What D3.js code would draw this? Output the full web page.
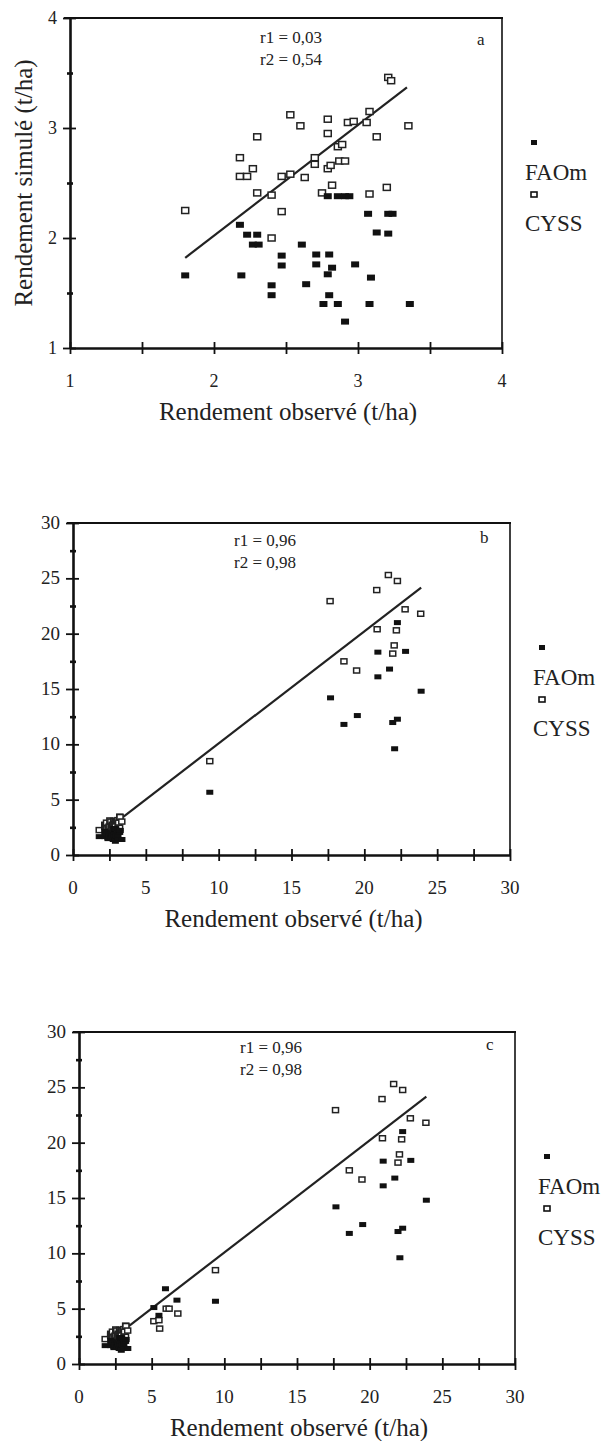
<!DOCTYPE html>
<html>
<head>
<meta charset="utf-8">
<script src="https://cdn.jsdelivr.net/npm/d3@7"></script>
<style>
  body { margin: 0; background: #fff; }
  svg { display: block; font-family: "Liberation Serif", "DejaVu Serif", serif; }
</style>
</head>
<body>
<svg></svg>
<script>
// observed / simulated yields (t/ha), read off the figure
// low-yield group (panel a, and the blob near the origin of b and c)
const faomLow = [
	[1.80, 1.66], [2.18, 2.12], [2.19, 1.66], [2.23, 2.03], [2.30, 2.03],
	[2.27, 1.94], [2.31, 1.94], [2.40, 1.57], [2.40, 1.48], [2.47, 1.84],
	[2.47, 1.75], [2.61, 1.94], [2.64, 1.58], [2.71, 1.85], [2.71, 1.76],
	[2.80, 1.85], [2.82, 1.73], [2.79, 1.67], [2.80, 1.48], [2.76, 1.40],
	[2.86, 1.40], [2.91, 1.24], [2.98, 1.76], [2.79, 2.38], [2.86, 2.38],
	[2.91, 2.38], [2.94, 2.38], [3.07, 2.22], [3.09, 1.64], [3.08, 1.40],
	[3.13, 2.05], [3.21, 2.04], [3.21, 2.22], [3.24, 2.22], [3.36, 1.40]
];
const cyssLow = [
	[1.80, 2.25], [2.18, 2.73], [2.18, 2.56], [2.23, 2.56], [2.27, 2.63],
	[2.30, 2.92], [2.30, 2.41], [2.40, 2.39], [2.40, 2.00], [2.47, 2.24],
	[2.47, 2.56], [2.53, 3.12], [2.53, 2.58], [2.60, 3.02], [2.63, 2.55],
	[2.70, 2.73], [2.70, 2.67], [2.75, 2.41], [2.79, 3.08], [2.79, 2.95],
	[2.79, 2.63], [2.81, 2.66], [2.82, 2.48], [2.86, 2.83], [2.89, 2.85],
	[2.87, 2.70], [2.91, 2.70], [2.93, 3.05], [2.97, 3.06], [3.06, 3.05],
	[3.08, 3.15], [3.08, 2.40], [3.13, 2.92], [3.20, 2.46], [3.21, 3.46],
	[3.23, 3.43], [3.35, 3.02]
];
// high-yield group (panels b and c)
const faomHigh = [
	[22.27, 21.0], [20.93, 18.33], [22.83, 18.4], [21.73, 16.8], [20.93, 16.1],
	[23.9, 14.8], [17.68, 14.2], [19.52, 12.6], [18.6, 11.8], [21.95, 11.97],
	[22.27, 12.27], [22.08, 9.6], [9.39, 5.67]
];
const cyssHigh = [
	[17.65, 22.94], [20.85, 23.94], [21.65, 25.3], [22.27, 24.76], [22.8, 22.2],
	[23.87, 21.8], [20.88, 20.4], [22.2, 20.3], [22.05, 18.94], [21.95, 18.2],
	[18.6, 17.5], [19.47, 16.67], [9.39, 8.48]
];
// mid-yield group (panel c only)
const faomMid = [[5.95, 6.8], [6.74, 5.77], [5.15, 5.1], [5.5, 4.4]];
const cyssMid = [[6.0, 5.0], [6.2, 5.0], [6.8, 4.56], [5.15, 3.87], [5.5, 3.96], [5.55, 3.2]];

// regression line end points
const fitA = [[1.80, 1.82], [3.34, 3.37]];
const fitBC = [[3.45, 3.45], [23.9, 24.15]];

const stats = {
	a: ["r1 = 0,03", "r2 = 0,54"],
	b: ["r1 = 0,96", "r2 = 0,98"],
	c: ["r1 = 0,96", "r2 = 0,98"]
};
const seriesNames = ["FAOm", "CYSS"];
const xTitle = "Rendement observé (t/ha)";
const yTitle = "Rendement simulé (t/ha)";

const size = { w: 606, h: 1441 };
const svg = d3.select("svg").attr("width", size.w).attr("height", size.h);

const panels = [
	{
		letter: "a", domain: [1, 4], step: 0.5, major: 1,
		box: { l: 70, r: 502, t: 18, b: 348 },
		faom: faomLow, cyss: cyssLow, fit: fitA, mk: 7, statX: 221, statY: 25, letterY: 27,
		tickFont: 18, yTitle: true
	},
	{
		letter: "b", domain: [0, 30], step: 2.5, major: 5,
		box: { l: 73, r: 510, t: 523, b: 855 },
		faom: faomLow.concat(faomHigh), cyss: cyssLow.concat(cyssHigh), fit: fitBC,
		mk: 6, statX: 192, statY: 23, letterY: 20, tickFont: 19
	},
	{
		letter: "c", domain: [0, 30], step: 2.5, major: 5,
		box: { l: 79, r: 515, t: 1032, b: 1364 },
		faom: faomLow.concat(faomMid, faomHigh), cyss: cyssLow.concat(cyssMid, cyssHigh),
		fit: fitBC, mk: 6, statX: 192, statY: 21, letterY: 18, tickFont: 19
	}
];

panels.forEach(p => drawPanel(svg.append("g").attr("class", "panel-" + p.letter), p));

function drawPanel(g, p) {
	const b = p.box;
	const x = d3.scaleLinear().domain(p.domain).range([b.l, b.r]);
	const y = d3.scaleLinear().domain(p.domain).range([b.b, b.t]);
	const ticks = d3.range(p.domain[0], p.domain[1] + p.step / 2, p.step);
	const isMajor = v => Math.abs(v / p.major - Math.round(v / p.major)) < 1e-6;

	// frame (top and right thinner)
	g.append("line").attr("x1", b.l - 6).attr("x2", b.r + 1).attr("y1", b.t).attr("y2", b.t)
		.attr("stroke", "#111").attr("stroke-width", 2);
	g.append("line").attr("x1", b.r).attr("x2", b.r).attr("y1", b.t).attr("y2", b.b)
		.attr("stroke", "#111").attr("stroke-width", 1.6);

	// x axis with crossing ticks
	const xAxis = d3.axisBottom(x).tickValues(ticks).tickSize(0).tickFormat("");
	const gx = g.append("g").attr("transform", `translate(0,${b.b})`).call(xAxis);
	gx.select(".domain").attr("stroke", "#111").attr("stroke-width", 2.6);
	gx.selectAll(".tick line").attr("y1", -6).attr("y2", 6)
		.attr("stroke", "#111").attr("stroke-width", 1.8);

	// y axis: crosses on majors, little nubs on minors
	const yAxis = d3.axisLeft(y).tickValues(ticks).tickSize(0).tickFormat("");
	const gy = g.append("g").attr("transform", `translate(${b.l},0)`).call(yAxis);
	gy.select(".domain").attr("stroke", "#111").attr("stroke-width", 2.6);
	gy.selectAll(".tick line")
		.attr("x1", d => isMajor(d) ? -7 : -3)
		.attr("x2", d => isMajor(d) ? 6 : 3)
		.attr("stroke", "#111").attr("stroke-width", d => isMajor(d) ? 1.8 : 2.6);

	// tick labels
	const labels = ticks.filter(isMajor);
	g.selectAll(".xlab").data(labels).enter().append("text")
		.attr("x", d => x(d)).attr("y", b.b + 39)
		.attr("text-anchor", "middle").attr("font-size", p.tickFont).attr("fill", "#222")
		.text(d => d);
	g.selectAll(".ylab").data(labels).enter().append("text")
		.attr("x", b.l - 13).attr("y", d => y(d) + 6)
		.attr("text-anchor", "end").attr("font-size", p.tickFont).attr("fill", "#222")
		.text(d => d);

	// regression line
	g.append("path").datum(p.fit)
		.attr("d", d3.line().x(d => x(d[0])).y(d => y(d[1])))
		.attr("stroke", "#222").attr("stroke-width", 2.2).attr("fill", "none");

	// points
	const m = p.mk;
	g.selectAll(".cyss").data(p.cyss).enter().append("rect")
		.attr("x", d => x(d[0]) - m / 2).attr("y", d => y(d[1]) - (m - 1) / 2)
		.attr("width", m).attr("height", m - 1)
		.attr("fill", "#fff").attr("stroke", "#222").attr("stroke-width", 1.5);
	g.selectAll(".faom").data(p.faom).enter().append("rect")
		.attr("x", d => x(d[0]) - (m + 1) / 2).attr("y", d => y(d[1]) - (m - 1) / 2)
		.attr("width", m + 1).attr("height", m - 1)
		.attr("fill", "#111");

	// stats and panel letter
	stats[p.letter].forEach((s, i) => {
		g.append("text").attr("x", b.l + p.statX).attr("y", b.t + p.statY + i * 22)
			.attr("text-anchor", "middle").attr("font-size", 17).attr("fill", "#222").text(s);
	});
	g.append("text").attr("x", b.l + 407).attr("y", b.t + p.letterY)
		.attr("font-size", 17).attr("fill", "#222").text(p.letter);

	// legend
	const lx = b.r + 32;
	g.append("rect").attr("x", lx - 3).attr("y", b.t + 122).attr("width", 6).attr("height", 5)
		.attr("fill", "#111");
	g.append("rect").attr("x", lx - 3).attr("y", b.t + 174).attr("width", 6).attr("height", 5)
		.attr("fill", "#fff").attr("stroke", "#111").attr("stroke-width", 1.6);
	seriesNames.forEach((n, i) => {
		g.append("text").attr("x", b.r + 23).attr("y", b.t + 162 + i * 51)
			.attr("font-size", 23).attr("fill", "#222").text(n);
	});

	// axis titles
	g.append("text").attr("x", (b.l + b.r) / 2 + 2).attr("y", b.b + 72)
		.attr("text-anchor", "middle").attr("font-size", 25).attr("fill", "#222").text(xTitle);
	if (p.yTitle) {
		g.append("text")
			.attr("transform", `translate(${b.l - 38},${(b.t + b.b) / 2}) rotate(-90)`)
			.attr("text-anchor", "middle").attr("font-size", 25).attr("fill", "#222").text(yTitle);
	}
}
</script>
</body>
</html>
